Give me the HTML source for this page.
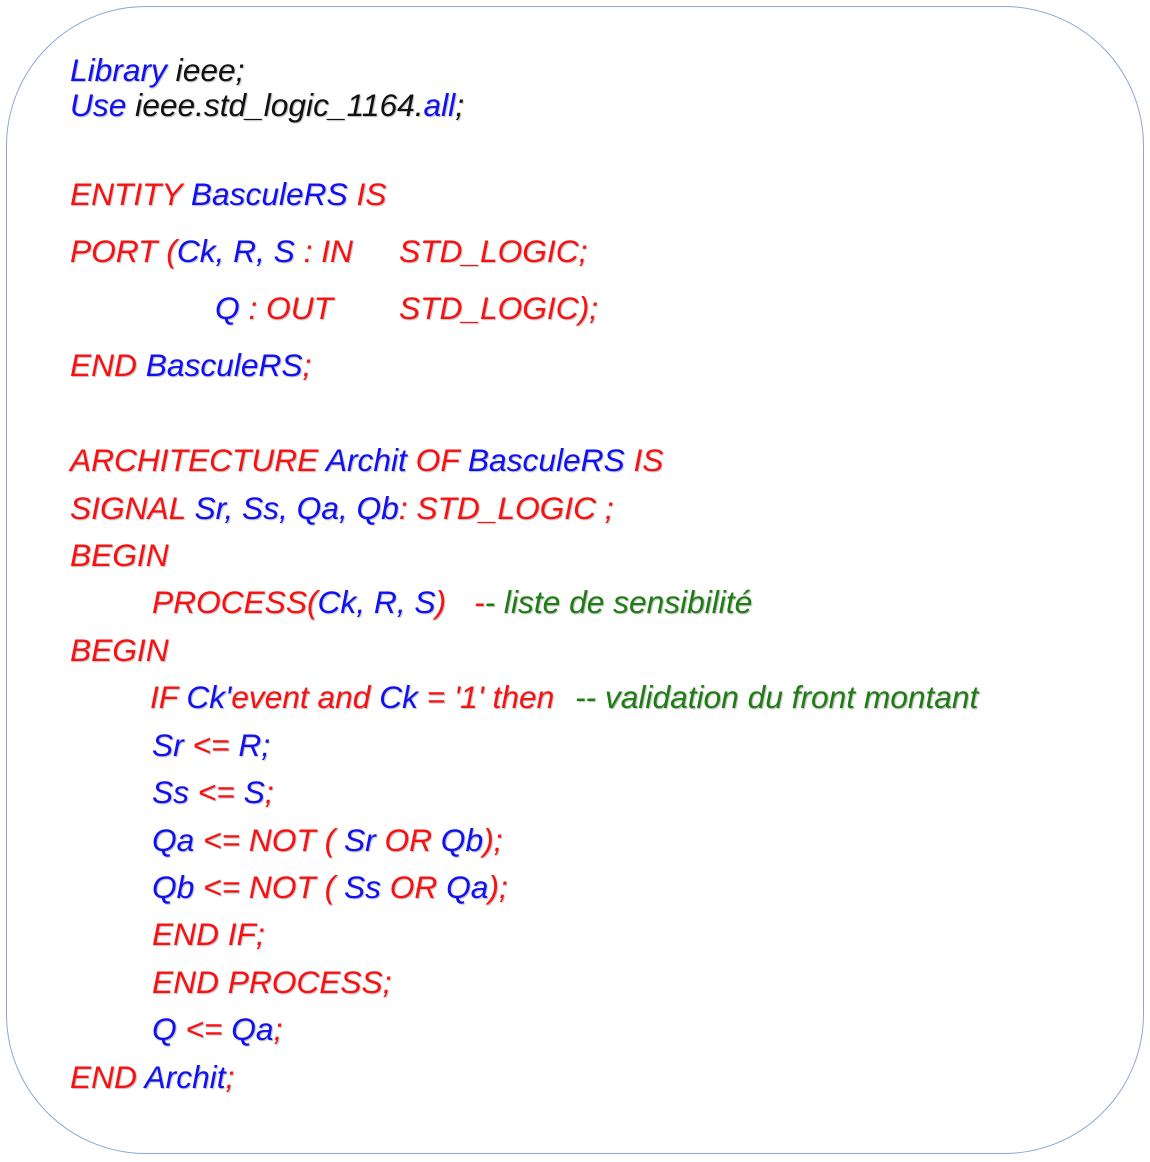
<!DOCTYPE html>
<html><head><meta charset="utf-8"><style>
html,body{margin:0;padding:0;background:#fff;}
body{width:1150px;height:1162px;position:relative;overflow:hidden;font-family:"Liberation Sans",Arial,sans-serif;}
.box{position:absolute;left:6px;top:6px;width:1138px;height:1148px;border:1.3px solid #8aa9d6;border-radius:140px;box-sizing:border-box;}
.l{position:absolute;font-style:italic;font-size:31.7px;line-height:34px;white-space:pre;text-shadow:1px 1px 1px rgba(0,0,0,0.28);}
.b{color:#1010f5}.r{color:#fa1010}.k{color:#111}.g{color:#1e7d12}
</style></head><body>
<div class="box"></div>
<div class="l" style="left:70px;top:53px"><span class="b">Library</span><span class="k"> ieee;</span></div>
<div class="l" style="left:70px;top:88px"><span class="b">Use</span><span class="k"> ieee.std_logic_1164.</span><span class="b">all</span><span class="k">;</span></div>
<div class="l" style="left:70px;top:177px"><span class="r">ENTITY </span><span class="b">BasculeRS </span><span class="r">IS</span></div>
<div class="l" style="left:70px;top:234px"><span class="r">PORT (</span><span class="b">Ck, R, S </span><span class="r">: IN</span></div>
<div class="l r" style="left:399px;top:234px">STD_LOGIC;</div>
<div class="l" style="left:215px;top:291px"><span class="b">Q </span><span class="r">: OUT</span></div>
<div class="l r" style="left:399px;top:291px">STD_LOGIC);</div>
<div class="l" style="left:70px;top:348px"><span class="r">END </span><span class="b">BasculeRS</span><span class="r">;</span></div>
<div class="l" style="left:70px;top:443px"><span class="r">ARCHITECTURE </span><span class="b">Archit </span><span class="r">OF </span><span class="b">BasculeRS </span><span class="r">IS</span></div>
<div class="l" style="left:70px;top:491px"><span class="r">SIGNAL </span><span class="b">Sr, Ss, Qa, Qb</span><span class="r">: STD_LOGIC ;</span></div>
<div class="l r" style="left:70px;top:538px">BEGIN</div>
<div class="l" style="left:152px;top:585px"><span class="r">PROCESS(</span><span class="b">Ck, R, S</span><span class="r">)</span></div>
<div class="l" style="left:474px;top:585px"><span class="r">-</span><span class="g">- liste de sensibilité</span></div>
<div class="l r" style="left:70px;top:633px">BEGIN</div>
<div class="l" style="left:150px;top:680px"><span class="r">IF </span><span class="b">Ck'</span><span class="r">event and </span><span class="b">Ck </span><span class="r">= '1' then</span></div>
<div class="l g" style="left:575px;top:680px">-- validation du front montant</div>
<div class="l" style="left:152px;top:728px"><span class="b">Sr </span><span class="r">&lt;= </span><span class="b">R;</span></div>
<div class="l" style="left:152px;top:775px"><span class="b">Ss </span><span class="r">&lt;= </span><span class="b">S</span><span class="r">;</span></div>
<div class="l" style="left:152px;top:823px"><span class="b">Qa </span><span class="r">&lt;= NOT ( </span><span class="b">Sr </span><span class="r">OR </span><span class="b">Qb</span><span class="r">);</span></div>
<div class="l" style="left:152px;top:870px"><span class="b">Qb </span><span class="r">&lt;= NOT ( </span><span class="b">Ss </span><span class="r">OR </span><span class="b">Qa</span><span class="r">);</span></div>
<div class="l r" style="left:152px;top:917px">END IF;</div>
<div class="l r" style="left:152px;top:965px">END PROCESS;</div>
<div class="l" style="left:152px;top:1012px"><span class="b">Q </span><span class="r">&lt;= </span><span class="b">Qa</span><span class="r">;</span></div>
<div class="l" style="left:70px;top:1060px"><span class="r">END </span><span class="b">Archit</span><span class="r">;</span></div>
</body></html>
